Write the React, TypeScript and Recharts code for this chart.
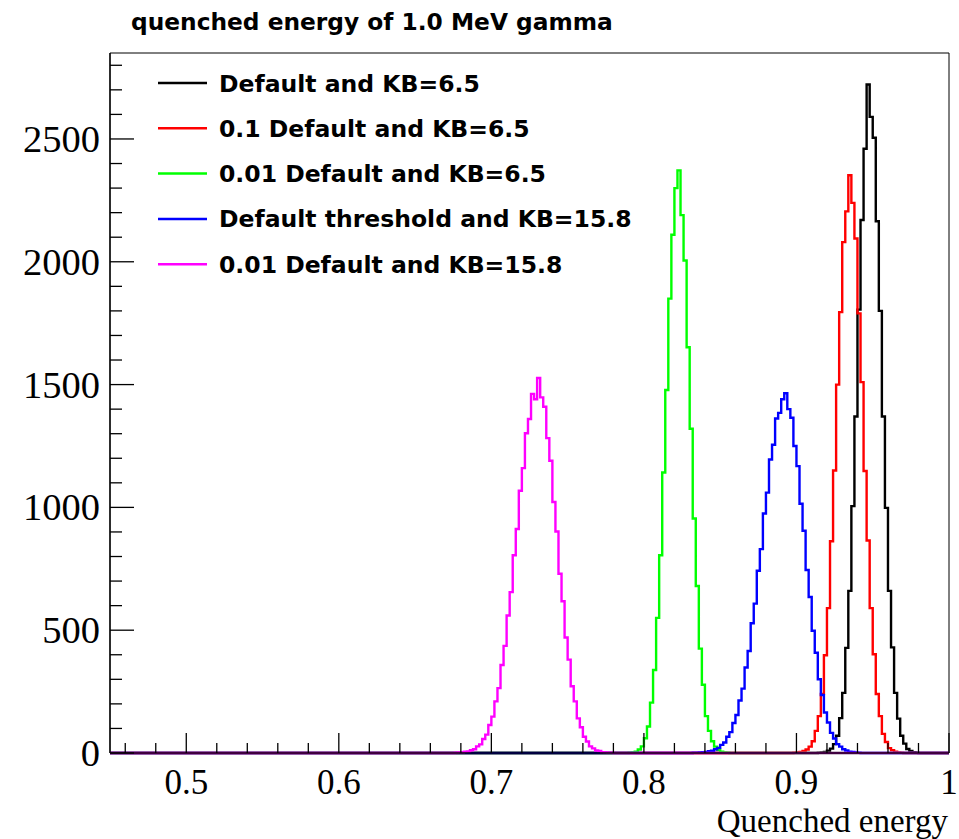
import React from 'react';
import { LineChart, Line, XAxis, YAxis, ReferenceArea, Legend } from 'recharts';

// histogram bin width
const BIN = 0.002;

const seriesNames = [
  'Default and KB=6.5',
  '0.1 Default and KB=6.5',
  '0.01 Default and KB=6.5',
  'Default threshold and KB=15.8',
  '0.01 Default and KB=15.8',
];
const seriesColors = ['#000000', '#ff0000', '#00ff00', '#0000ff', '#ff00ff'];

// low edge of the first listed bin for each series
const seriesStarts = [0.912, 0.896, 0.786, 0.83, 0.672];

const blackCounts = [
  0, 1, 2, 4, 9, 18, 36, 70, 142, 245, 428, 660, 1005, 1370, 1805, 2170, 2460, 2722,
  2590, 2505, 2165, 1800, 1370, 998, 660, 430, 245, 140, 70, 38, 16, 8, 3, 1, 0,
];
const redCounts = [
  0, 1, 2, 4, 8, 14, 26, 48, 90, 150, 240, 398, 590, 862, 1150, 1500, 1795, 2080, 2205,
  2352, 2240, 2095, 1790, 1510, 1148, 865, 590, 402, 240, 150, 78, 45, 20, 11, 5, 2, 1, 0,
];
const greenCounts = [
  0, 0, 1, 2, 5, 14, 27, 60, 108, 205, 338, 550, 805, 1142, 1478, 1850, 2110, 2300, 2372,
  2190, 2005, 1652, 1320, 955, 680, 425, 278, 150, 90, 48, 26, 12, 5, 2, 1, 0,
];
const blueCounts = [
  0, 1, 1, 2, 3, 4, 7, 9, 15, 21, 33, 43, 66, 85, 122, 155, 214, 262, 348, 415, 528, 608,
  742, 830, 975, 1060, 1195, 1255, 1362, 1385, 1440, 1465, 1400, 1365, 1250, 1168, 1015,
  905, 745, 635, 498, 408, 300, 236, 165, 124, 82, 59, 36, 26, 15, 10, 5, 4, 2, 1, 0,
];
const magentaCounts = [
  0, 0, 1, 2, 2, 5, 6, 11, 15, 27, 35, 57, 75, 114, 148, 210, 264, 358, 436, 560, 655, 805,
  912, 1068, 1160, 1302, 1360, 1462, 1440, 1527, 1448, 1410, 1282, 1190, 1022, 902, 730,
  618, 470, 380, 272, 210, 141, 105, 66, 47, 27, 19, 10, 8, 3, 2, 1, 1, 0,
];

const allCounts = [blackCounts, redCounts, greenCounts, blueCounts, magentaCounts];

const xTicks = [
  0.46, 0.48, 0.5, 0.52, 0.54, 0.56, 0.58, 0.6, 0.62, 0.64, 0.66, 0.68, 0.7, 0.72, 0.74,
  0.76, 0.78, 0.8, 0.82, 0.84, 0.86, 0.88, 0.9, 0.92, 0.94, 0.96, 0.98, 1,
];
const xMajor = [0.5, 0.6, 0.7, 0.8, 0.9, 1];
const xLabels = ['0.5', '0.6', '0.7', '0.8', '0.9', '1'];
const yTicks = [
  0, 100, 200, 300, 400, 500, 600, 700, 800, 900, 1000, 1100, 1200, 1300, 1400, 1500, 1600,
  1700, 1800, 1900, 2000, 2100, 2200, 2300, 2400, 2500, 2600, 2700, 2800,
];
const yMajor = [0, 500, 1000, 1500, 2000, 2500];

const X_MIN = 0.45;
const X_MAX = 1.0;
const Y_MAX = 2850;

function toHist(start: number, counts: number[]) {
  const pts = [{ x: X_MIN, y: 0 }];
  counts.forEach((c, i) => pts.push({ x: +(start + i * BIN).toFixed(3), y: c }));
  pts.push({ x: X_MAX, y: 0 });
  return pts;
}

const SERIF = '"Liberation Serif", "Times New Roman", serif';
const SANS = '"DejaVu Sans", sans-serif';

const XTick = (p: any) => {
  const v = p.payload.value;
  const idx = xMajor.findIndex((m) => Math.abs(m - v) < 1e-6);
  const major = idx >= 0;
  return (
    <g>
      <line x1={p.x} x2={p.x} y1={p.y} y2={p.y - (major ? 20 : 10)} stroke="#000" strokeWidth={1.3} />
      {major && (
        <text x={p.x} y={p.y + 40.5} textAnchor="middle" fontFamily={SERIF} fontSize={35} fill="#000">
          {xLabels[idx]}
        </text>
      )}
    </g>
  );
};

const YTick = (p: any) => {
  const v = p.payload.value;
  const major = yMajor.includes(v);
  return (
    <g>
      <line x1={p.x} x2={p.x + (major ? 24 : 12)} y1={p.y} y2={p.y} stroke="#000" strokeWidth={1.3} />
      {major && (
        <text x={p.x - 10} y={p.y} dy="0.34em" textAnchor="end" fontFamily={SERIF} fontSize={38.5} fill="#000">
          {v}
        </text>
      )}
    </g>
  );
};

const LegendBox = () => (
  <svg width={520} height={230}>
    {seriesNames.map((name, i) => {
      const cy = 23 + i * 45.3;
      return (
        <g key={name}>
          <line x1={8} x2={57} y1={cy} y2={cy} stroke={seriesColors[i]} strokeWidth={2.5} />
          <text x={69} y={cy + 8.5} fontFamily={SANS} fontWeight="bold" fontSize={23.5} fill="#000">
            {name}
          </text>
        </g>
      );
    })}
  </svg>
);

export default function App() {
  return (
    <div style={{ position: 'absolute', left: 0, top: 0, width: 959, height: 839, background: '#fff' }}>
      <svg width={959} height={45} style={{ position: 'absolute', left: 0, top: 0 }}>
        <text x={131} y={30} fontFamily={SANS} fontWeight="bold" fontSize={23.3} fill="#000">
          quenched energy of 1.0 MeV gamma
        </text>
      </svg>
      <LineChart width={959} height={839} margin={{ top: 53, right: 10, left: 0, bottom: 0 }}>
        <XAxis
          dataKey="x"
          type="number"
          domain={[X_MIN, X_MAX]}
          ticks={xTicks}
          interval={0}
          tickSize={0}
          tickMargin={0}
          tick={XTick}
          height={86}
          axisLine={{ stroke: '#000', strokeWidth: 1.3 }}
          tickLine={false}
          label={{
            value: 'Quenched energy',
            content: (props: any) => {
              const vb = props.viewBox;
              return (
                <text x={vb.x + vb.width - 1} y={vb.y + 78.5} textAnchor="end" fontFamily={SERIF} fontSize={33} fill="#000">
                  Quenched energy
                </text>
              );
            },
          }}
        />
        <YAxis
          type="number"
          domain={[0, Y_MAX]}
          ticks={yTicks}
          interval={0}
          tickSize={0}
          tickMargin={0}
          tick={YTick}
          width={110}
          axisLine={{ stroke: '#000', strokeWidth: 1.3 }}
          tickLine={false}
        />
        <ReferenceArea
          x1={X_MIN}
          x2={X_MAX}
          y1={0}
          y2={Y_MAX}
          fill="none"
          fillOpacity={0}
          stroke="#000"
          strokeWidth={1}
          ifOverflow="visible"
        />
        {allCounts.map((counts, i) => (
          <Line
            key={seriesNames[i]}
            name={seriesNames[i]}
            data={toHist(seriesStarts[i], counts)}
            dataKey="y"
            type="stepAfter"
            stroke={seriesColors[i]}
            strokeWidth={2.4}
            dot={false}
            activeDot={false}
            isAnimationActive={false}
          />
        ))}
        <Legend
          layout="vertical"
          align="center"
          verticalAlign="middle"
          wrapperStyle={{ left: 150, top: 60, width: 520, height: 230 }}
          content={LegendBox}
        />
      </LineChart>
    </div>
  );
}
